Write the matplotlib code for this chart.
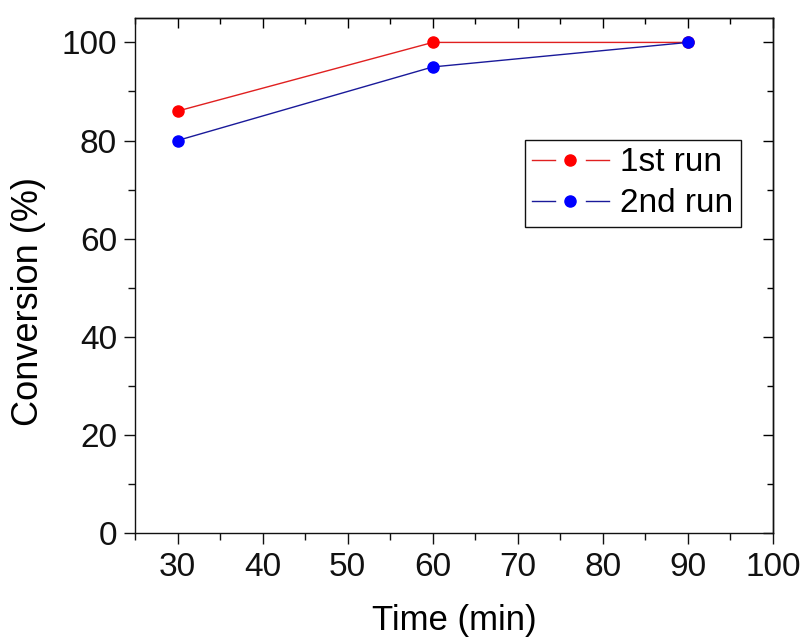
import matplotlib
matplotlib.use("Agg")
import matplotlib.pyplot as plt
from matplotlib.legend_handler import HandlerBase
from matplotlib.lines import Line2D
from matplotlib.ticker import MultipleLocator

time_min = [30, 60, 90]
run1 = [86, 100, 100]
run2 = [80, 95, 100]
labels = ["1st run", "2nd run"]

plt.rcParams["font.family"] = ["Liberation Sans", "DejaVu Sans"]


class GapLineHandler(HandlerBase):
    # Origin-style legend key: line, gap, marker, gap, line
    def create_artists(self, legend, orig_handle, xdescent, ydescent, width, height, fontsize, trans):
        y = (height - ydescent) / 2.0
        x0, x1 = -xdescent, width - xdescent
        seg = (x1 - x0) * 0.3
        color = orig_handle.get_color()
        lw = orig_handle.get_linewidth()
        a = Line2D([x0, x0 + seg], [y, y], color=color, lw=lw)
        b = Line2D([x1 - seg, x1], [y, y], color=color, lw=lw)
        m = Line2D([(x0 + x1) / 2], [y], marker="o", linestyle="none",
                   markersize=orig_handle.get_markersize(),
                   markerfacecolor=orig_handle.get_markerfacecolor(),
                   markeredgecolor=orig_handle.get_markeredgecolor())
        for art in (a, b, m):
            art.set_transform(trans)
        return [a, b, m]


fig = plt.figure(figsize=(8.06, 6.39), dpi=100)
ax = fig.add_axes([0.1675, 0.166, 0.7915, 0.806])

l1, = ax.plot(time_min, run1, color="#e02020", lw=1.0, marker="o", markersize=8,
              markerfacecolor="#ff0000", markeredgecolor="#ff0000", label=labels[0])
l2, = ax.plot(time_min, run2, color="#1a1a9a", lw=1.0, marker="o", markersize=8,
              markerfacecolor="#0000ff", markeredgecolor="#0000ff", label=labels[1])

ax.set_xlim(25, 100)
ax.set_ylim(0, 105)
ax.xaxis.set_major_locator(MultipleLocator(10))
ax.xaxis.set_minor_locator(MultipleLocator(5))
ax.yaxis.set_major_locator(MultipleLocator(20))
ax.yaxis.set_minor_locator(MultipleLocator(10))
ax.set_xticks(range(30, 101, 10))

ax.tick_params(which="both", direction="out", top=False, right=False, width=1.0,
               labelsize=24, colors="#111111")
ax.tick_params(which="major", length=8, pad=5)
ax.tick_params(which="minor", length=5)
ax.tick_params(axis="x", which="major", pad=6)

# mirrored inward ticks on top/right, no labels
axt = ax.secondary_xaxis("top")
axt.xaxis.set_major_locator(MultipleLocator(10))
axt.xaxis.set_minor_locator(MultipleLocator(5))
axt.tick_params(which="both", direction="in", labeltop=False, width=1.0)
axt.tick_params(which="major", length=7)
axt.tick_params(which="minor", length=4)
axr = ax.secondary_yaxis("right")
axr.yaxis.set_major_locator(MultipleLocator(20))
axr.yaxis.set_minor_locator(MultipleLocator(10))
axr.tick_params(which="both", direction="in", labelright=False, width=1.0)
axr.tick_params(which="major", length=7)
axr.tick_params(which="minor", length=4)
for a in (axt, axr):
    for s in a.spines.values():
        s.set_linewidth(1.0)

for s in ax.spines.values():
    s.set_linewidth(1.0)
    s.set_color("#111111")

ax.set_xlabel("Time (min)", fontsize=25, labelpad=15)
ax.set_ylabel("Conversion (%)", fontsize=26)
ax.yaxis.set_label_coords(-0.139, 0.449)

leg = ax.legend(handles=[l1, l2], handler_map={Line2D: GapLineHandler()},
                loc="upper left", bbox_to_anchor=(0.611, 0.763), borderaxespad=0,
                fontsize=24, handlelength=2.3, handletextpad=0.35, borderpad=0.22,
                labelspacing=0.3, fancybox=False, framealpha=1, edgecolor="#111111")
leg.get_frame().set_linewidth(1.0)

fig.savefig("out.png", dpi=100)
